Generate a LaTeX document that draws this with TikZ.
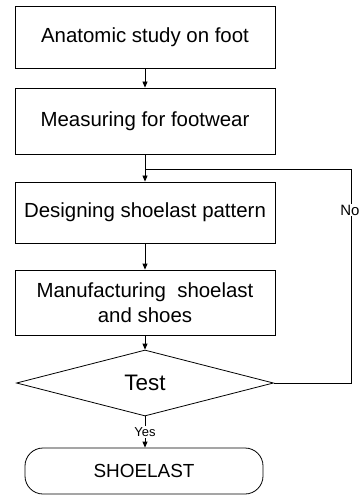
\documentclass[tikz,border=0pt]{standalone}
\usepackage{fontspec}
\setmainfont{Liberation Sans}
\usetikzlibrary{shapes.geometric,arrows.meta}
\begin{document}
\begin{tikzpicture}[x=1bp,y=-1bp,
  stepbox/.style={draw,line width=0.8bp,minimum width=260bp,inner sep=0,font=\fontsize{20.5}{25}\selectfont,align=center},
  conn/.style={line width=0.8bp,-{Triangle[length=6bp,width=5bp]}},
  plain/.style={line width=0.8bp}]
\useasboundingbox (0,0) rectangle (358,497);
\node[stepbox,minimum height=62bp] (b1) at (145,37) {Anatomic study on foot};
\node[stepbox,minimum height=66bp] (b2) at (145,121) {Measuring for footwear};
\node[stepbox,minimum height=61bp] (b3) at (145,212.5) {Designing shoelast pattern};
\node[stepbox,minimum height=65bp] (b4) at (145,302.5) {Manufacturing\ \ shoelast\\and shoes};
\node[draw,line width=0.8bp,shape=diamond,aspect=3.9,minimum width=257bp,minimum height=66bp,inner sep=0,font=\fontsize{22.5}{26}\selectfont] (t) at (145,383) {Test};
\node[draw,line width=0.8bp,rounded corners=18bp,minimum width=238bp,minimum height=46bp,inner sep=0,font=\fontsize{19}{23}\selectfont] (s) at (144,471) {SHOELAST};
\coordinate (j) at (145,169);
\coordinate (jr) at (351,169);
\draw[conn] (b1.south) -- (b2.north);
\draw[conn] (b2.south) -- (b3.north);
\draw[conn] (b3.south) -- (b4.north);
\draw[conn] (b4.south) -- (t.north);
\draw[conn] (t.south) -- (t.south |- s.north);
\draw[plain] (t.east) -| (jr) -- (j);
\node[fill=white,inner sep=1bp,font=\fontsize{15}{17}\selectfont] (no) at (350,210) {No};
\node[fill=white,inner sep=1bp,font=\fontsize{13}{15}\selectfont] (yes) at (145,432) {Yes};
\end{tikzpicture}
\end{document}
